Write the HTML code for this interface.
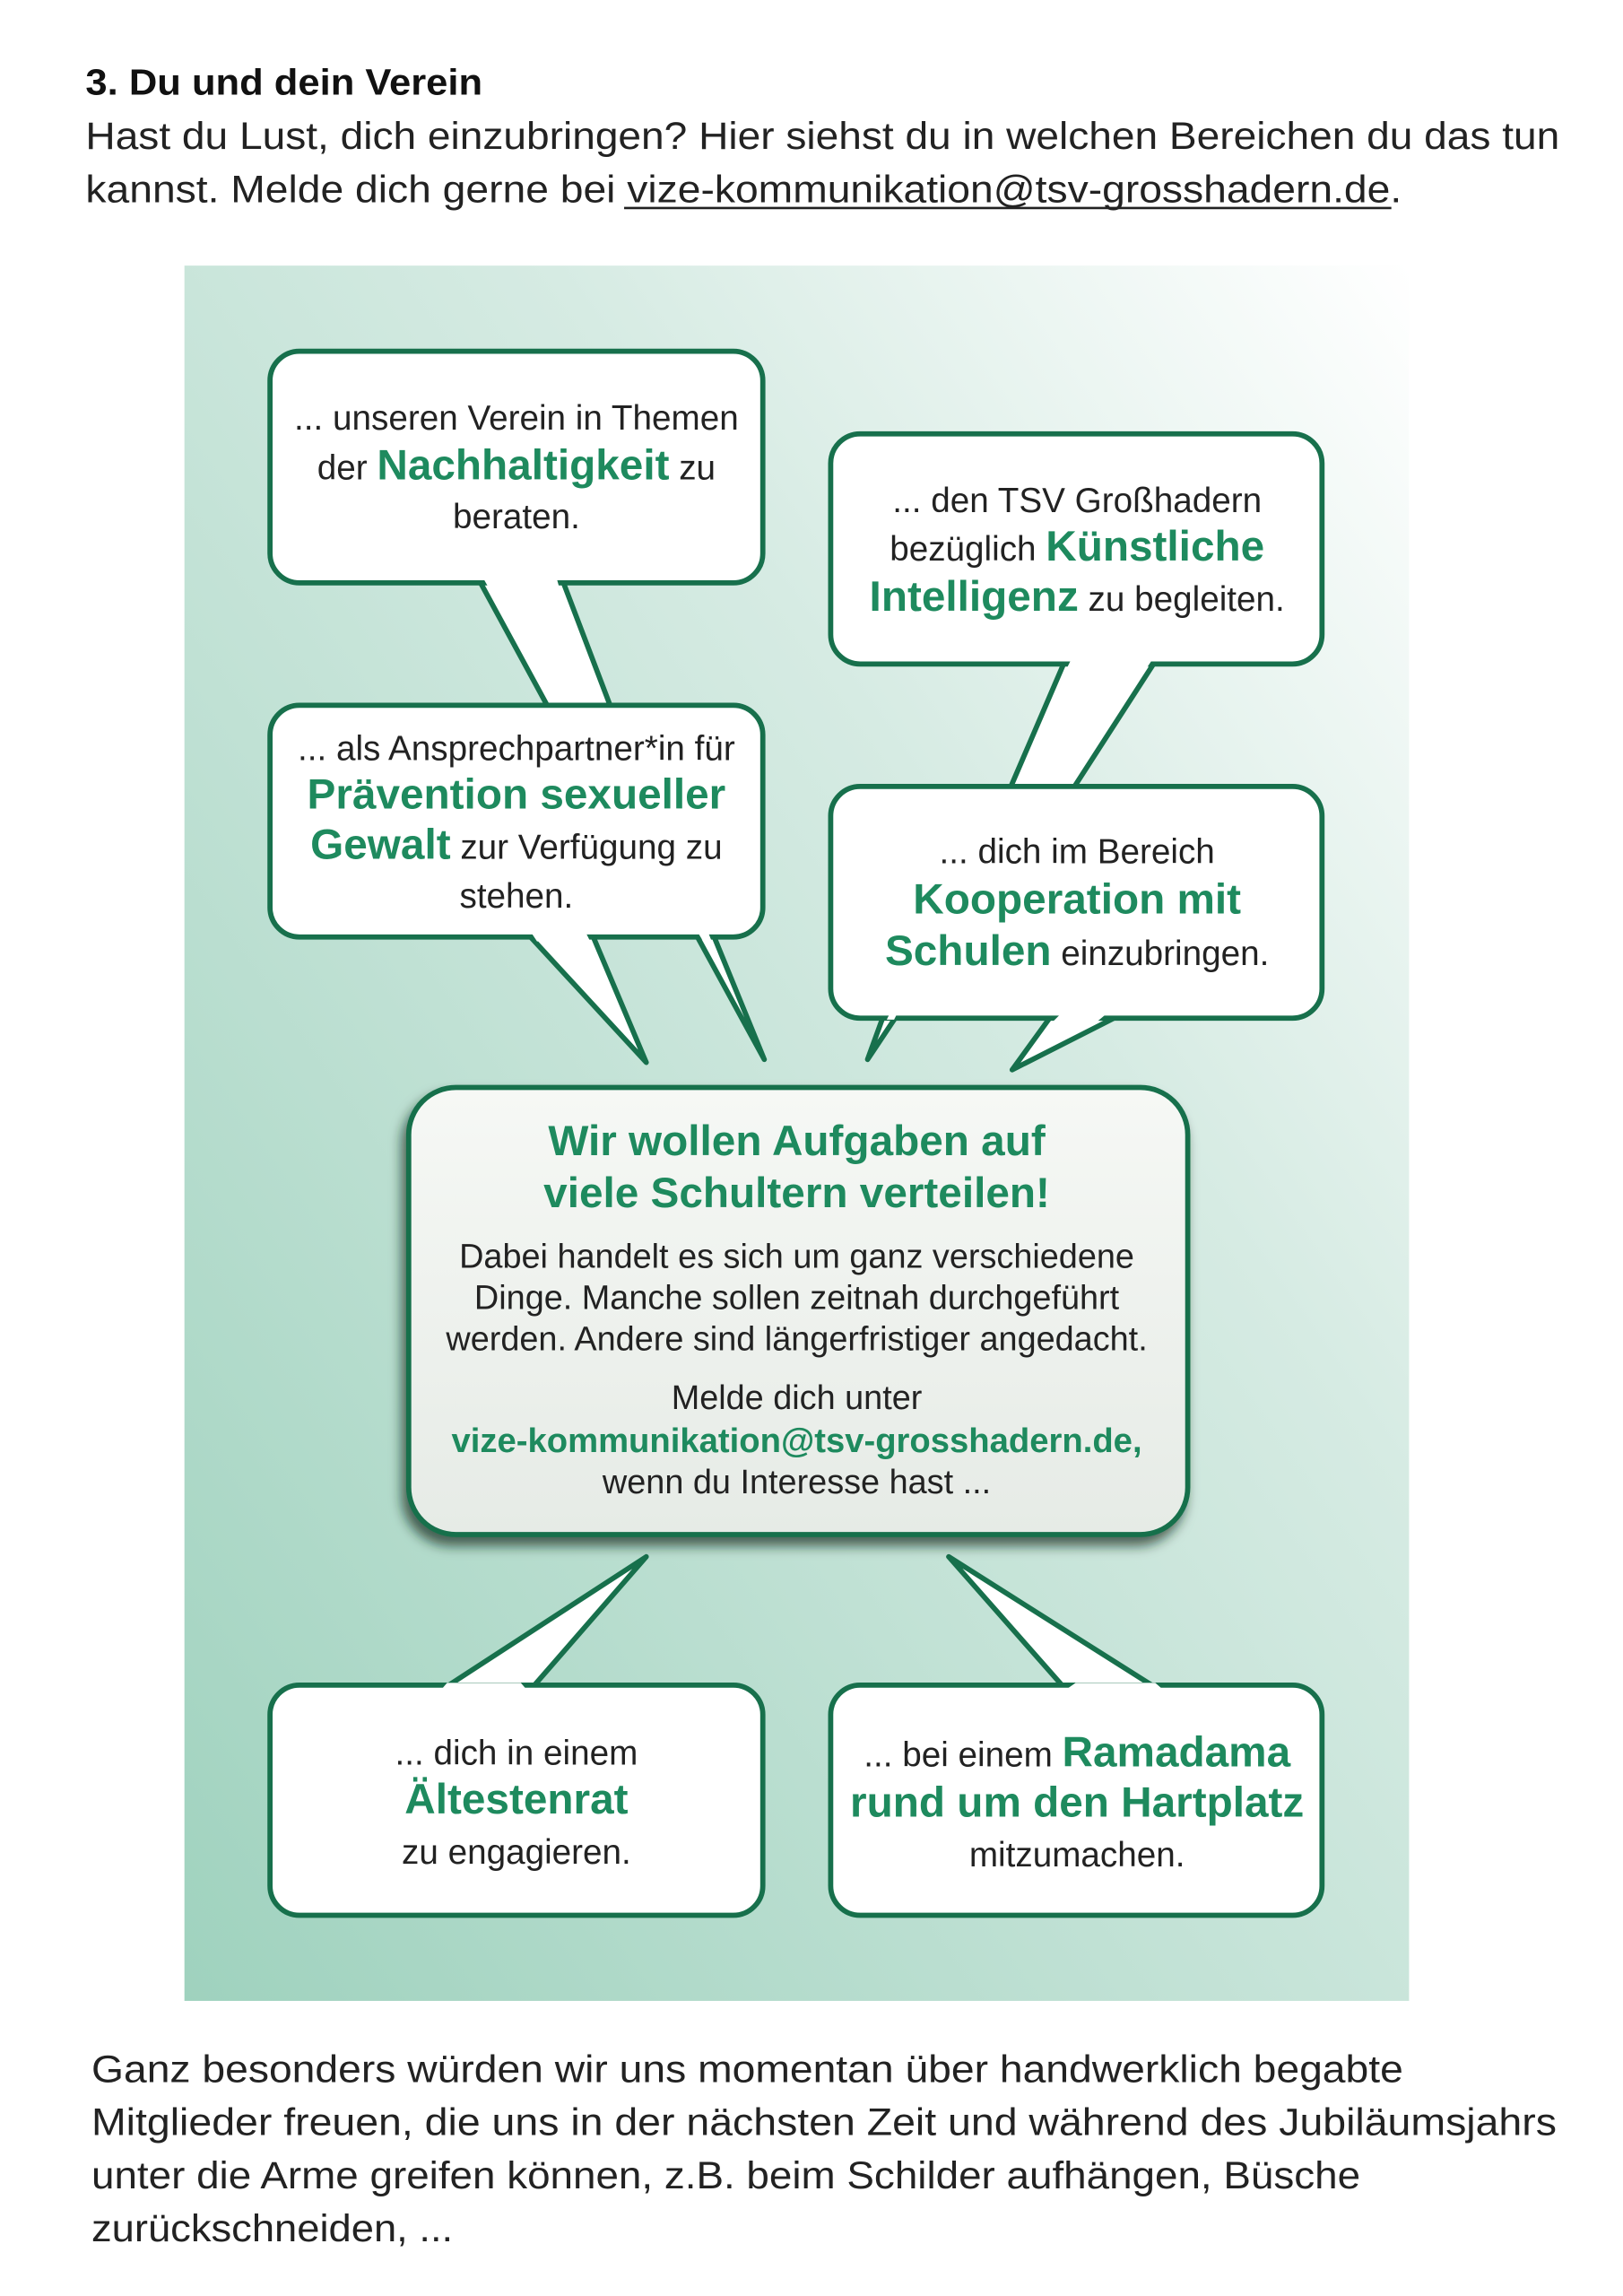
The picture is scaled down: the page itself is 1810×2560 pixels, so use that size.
<!DOCTYPE html>
<html><head><meta charset="utf-8"><style>
html,body{margin:0;padding:0;background:#fff;width:1810px;height:2560px;overflow:hidden}
svg{display:block}
text{font-family:"Liberation Sans",sans-serif}
</style></head><body>
<svg width="1810" height="2560" viewBox="0 0 1100 1556" preserveAspectRatio="none" xmlns="http://www.w3.org/2000/svg">
<defs>
<linearGradient id="bg" x1="1" y1="0" x2="0" y2="1">
<stop offset="0" stop-color="#ffffff"/>
<stop offset="0.35" stop-color="#d6ebe3"/>
<stop offset="1" stop-color="#9fd2be"/>
</linearGradient>
<linearGradient id="cg" x1="0" y1="0" x2="0" y2="1">
<stop offset="0" stop-color="#f6f8f5"/>
<stop offset="1" stop-color="#e6ebe6"/>
</linearGradient>
<filter id="sh" x="-10%" y="-10%" width="120%" height="125%">
<feDropShadow dx="-3" dy="6" stdDeviation="4" flood-color="#0a2a1c" flood-opacity="0.7"/>
</filter>
</defs>
<!-- header -->
<text x="58" y="64" font-size="25" font-weight="bold" fill="#111" textLength="269" lengthAdjust="spacingAndGlyphs">3. Du und dein Verein</text>
<text x="58" y="101" font-size="26" fill="#222" textLength="999" lengthAdjust="spacingAndGlyphs">Hast du Lust, dich einzubringen? Hier siehst du in welchen Bereichen du das tun</text>
<text x="58" y="137" font-size="26" fill="#222" textLength="892" lengthAdjust="spacingAndGlyphs">kannst. Melde dich gerne bei vize-kommunikation@tsv-grosshadern.de.</text>
<line x1="423" y1="141" x2="943" y2="141" stroke="#222" stroke-width="1.6"/>

<!-- panel -->
<rect x="125" y="180" width="830" height="1176" fill="url(#bg)"/>

<g stroke="#17704c" stroke-width="3.5" stroke-linejoin="round" fill="#fff">
<!-- tails -->
<polygon points="323,390 373,482 415,482 380,390"/>
<polygon points="723,445 683,538 725,538 785,445"/>
<polygon points="355,630 438,720 400,630"/>
<polygon points="470,630 518,718 482,630"/>
<polygon points="600,685 588,718 610,685"/>
<polygon points="715,685 686,725 755,690"/>
<polygon points="438,1055 295,1148 357,1148"/>
<polygon points="643,1055 725,1148 790,1148"/>
<!-- boxes -->
<rect x="183" y="238" width="334" height="157" rx="20"/>
<rect x="563" y="294" width="333" height="156" rx="20"/>
<rect x="183" y="478" width="334" height="157" rx="20"/>
<rect x="563" y="533" width="333" height="157" rx="20"/>
<rect x="183" y="1142" width="334" height="156" rx="20"/>
<rect x="563" y="1142" width="333" height="156" rx="20"/>
</g>
<!-- cover tail bases -->
<g fill="#fff">
<polygon points="327,391 377,391 379,398 331,398"/>
<polygon points="726,447 781,447 777,453 723,453"/>
<polygon points="360,632 397,632 400,638 364,638"/>
<polygon points="473,632 480,632 482,637 476,637"/>
<polygon points="603,687 608,687 606,691 601,691"/>
<polygon points="719,687 750,687 744,692 714,692"/>
<polygon points="303,1140.5 353,1140.5 356,1144 300,1144"/>
<polygon points="729,1140.5 783,1140.5 787,1144 724,1144"/>
</g>

<!-- center box -->
<rect x="277" y="737" width="528" height="303" rx="32" fill="url(#cg)" stroke="#17704c" stroke-width="3.5" filter="url(#sh)"/>

<g text-anchor="middle" font-size="23.5" fill="#222">
<text x="350" y="291">... unseren Verein in Themen</text>
<text x="350" y="325">der <tspan fill="#1e8a5e" font-size="29" font-weight="bold">Nachhaltigkeit</tspan> zu</text>
<text x="350" y="358">beraten.</text>

<text x="730" y="347">... den TSV Großhadern</text>
<text x="730" y="380">bezüglich <tspan fill="#1e8a5e" font-size="29" font-weight="bold">Künstliche</tspan></text>
<text x="730" y="414"><tspan fill="#1e8a5e" font-size="29" font-weight="bold">Intelligenz</tspan> zu begleiten.</text>

<text x="350" y="515">... als Ansprechpartner*in für</text>
<text x="350" y="548" fill="#1e8a5e" font-size="29" font-weight="bold">Prävention sexueller</text>
<text x="350" y="582"><tspan fill="#1e8a5e" font-size="29" font-weight="bold">Gewalt</tspan> zur Verfügung zu</text>
<text x="350" y="615">stehen.</text>

<text x="730" y="585">... dich im Bereich</text>
<text x="730" y="619" fill="#1e8a5e" font-size="29" font-weight="bold">Kooperation mit</text>
<text x="730" y="654"><tspan fill="#1e8a5e" font-size="29" font-weight="bold">Schulen</tspan> einzubringen.</text>
</g>
<g text-anchor="middle" font-size="23" fill="#222">
<text x="540" y="783" fill="#1e8a5e" font-size="29" font-weight="bold">Wir wollen Aufgaben auf</text>
<text x="540" y="818" fill="#1e8a5e" font-size="29" font-weight="bold">viele Schultern verteilen!</text>
<text x="540" y="859">Dabei handelt es sich um ganz verschiedene</text>
<text x="540" y="887">Dinge. Manche sollen zeitnah durchgeführt</text>
<text x="540" y="915">werden. Andere sind längerfristiger angedacht.</text>
<text x="540" y="955">Melde dich unter</text>
<text x="540" y="984" fill="#1e8a5e" font-weight="bold" textLength="468" lengthAdjust="spacingAndGlyphs">vize-kommunikation@tsv-grosshadern.de,</text>
<text x="540" y="1012">wenn du Interesse hast ...</text>
</g>
<g text-anchor="middle" font-size="23.5" fill="#222">
<text x="350" y="1196">... dich in einem</text>
<text x="350" y="1229" fill="#1e8a5e" font-size="29" font-weight="bold">Ältestenrat</text>
<text x="350" y="1263">zu engagieren.</text>

<text x="730" y="1197">... bei einem <tspan fill="#1e8a5e" font-size="29" font-weight="bold">Ramadama</tspan></text>
<text x="730" y="1231" fill="#1e8a5e" font-size="29" font-weight="bold">rund um den Hartplatz</text>
<text x="730" y="1265">mitzumachen.</text>
</g>

<!-- bottom paragraph -->
<g font-size="26" fill="#222">
<text x="62" y="1411" textLength="889" lengthAdjust="spacingAndGlyphs">Ganz besonders würden wir uns momentan über handwerklich begabte</text>
<text x="62" y="1447" textLength="993" lengthAdjust="spacingAndGlyphs">Mitglieder freuen, die uns in der nächsten Zeit und während des Jubiläumsjahrs</text>
<text x="62" y="1483" textLength="860" lengthAdjust="spacingAndGlyphs">unter die Arme greifen können, z.B. beim Schilder aufhängen, Büsche</text>
<text x="62" y="1519" textLength="245" lengthAdjust="spacingAndGlyphs">zurückschneiden, ...</text>
</g>
</svg>
</body></html>
